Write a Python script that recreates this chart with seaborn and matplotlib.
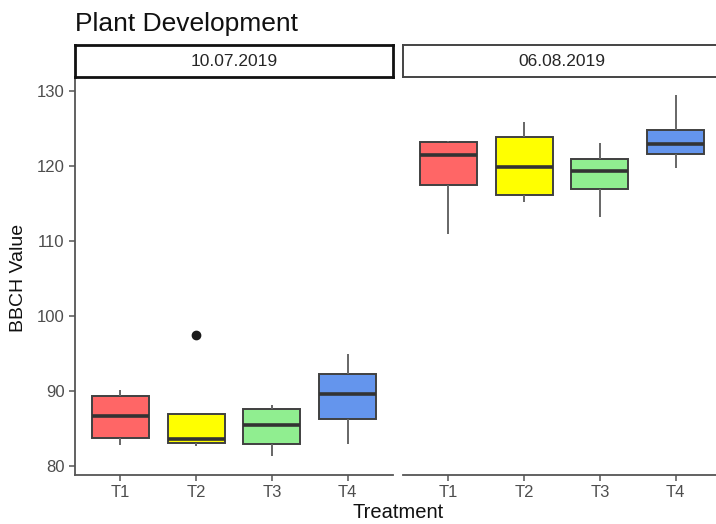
import matplotlib
matplotlib.use("Agg")
import matplotlib.pyplot as plt
import seaborn as sns
import pandas as pd

# BBCH observations per treatment and assessment date
dates = ["10.07.2019", "06.08.2019"]
treatments = ["T1", "T2", "T3", "T4"]

jul_t1 = [82.8, 83.8, 86.7, 89.4, 90.2]
jul_t2 = [82.7, 83.1, 83.6, 86.9, 97.5]
jul_t3 = [81.4, 82.9, 85.5, 87.6, 88.2]
jul_t4 = [83.0, 86.3, 89.6, 92.3, 95.0]

aug_t1 = [110.9, 117.5, 121.5, 123.2, 123.4]
aug_t2 = [115.2, 116.1, 119.9, 123.9, 125.9]
aug_t3 = [113.2, 117.0, 119.4, 121.0, 123.1]
aug_t4 = [119.8, 121.6, 122.9, 124.8, 129.5]

box_colors = ["#FF6666", "#FFFF00", "#90EE90", "#6495ED"]

rows = []
for date, groups in zip(dates, [[jul_t1, jul_t2, jul_t3, jul_t4],
                                [aug_t1, aug_t2, aug_t3, aug_t4]]):
    for trt, vals in zip(treatments, groups):
        for v in vals:
            rows.append({"Date": date, "Treatment": trt, "BBCH": v})
df = pd.DataFrame(rows)

sns.set_style("white")
plt.rcParams["font.family"] = ["Liberation Sans", "DejaVu Sans"]

W, H = 716, 524
fig = plt.figure(figsize=(W / 100, H / 100), dpi=100)

ax_left, ax_w = 75, 318
gap = 10
ax_top, ax_bot = 77, 475
strip_top = 45

palette = dict(zip(treatments, box_colors))
for i, date in enumerate(dates):
    x0 = ax_left + i * (ax_w + gap)
    ax = fig.add_axes([x0 / W, 1 - ax_bot / H, ax_w / W, (ax_bot - ax_top) / H])
    sub = df[df["Date"] == date]
    sns.boxplot(
        data=sub, x="Treatment", y="BBCH", hue="Treatment",
        order=treatments, hue_order=treatments, palette=palette,
        legend=False, saturation=1, width=0.75, ax=ax,
        linecolor="#404040", linewidth=1.4, fliersize=6,
        showcaps=False,
        whiskerprops={"color": "#666666", "linewidth": 1.4},
        medianprops={"color": "#333333", "linewidth": 2.6},
        flierprops={"marker": "o", "markerfacecolor": "#1a1a1a",
                    "markeredgecolor": "#1a1a1a"},
    )
    ax.set_xlim(-0.6, 3.6)
    ax.set_ylim(78.8, 131.9)
    ax.set_xlabel("")
    ax.set_ylabel("")
    for s in ["top", "right"]:
        ax.spines[s].set_visible(False)
    ax.spines["bottom"].set_color("#555555")
    ax.spines["bottom"].set_linewidth(1.3)
    ax.tick_params(axis="x", length=4, width=1.1, color="#555555",
                   labelsize=12, labelcolor="#4D4D4D", pad=3, bottom=True)
    if i == 0:
        ax.spines["left"].set_color("#555555")
        ax.spines["left"].set_linewidth(1.3)
        ax.set_yticks([80, 90, 100, 110, 120, 130])
        ax.tick_params(axis="y", length=4.5, width=1.1, color="#555555",
                       labelsize=12, labelcolor="#4D4D4D", pad=3, left=True)
    else:
        ax.spines["left"].set_visible(False)
        ax.set_yticks([])
    ax.set_facecolor("white")

    # facet strip header
    sax = fig.add_axes([x0 / W, 1 - ax_top / H, ax_w / W, (ax_top - strip_top) / H])
    sax.set_xticks([])
    sax.set_yticks([])
    edge = "#111111" if i == 0 else "#444444"
    lw = 2.0 if i == 0 else 1.4
    for s in sax.spines.values():
        s.set_visible(True)
        s.set_color(edge)
        s.set_linewidth(lw)
    sax.set_facecolor("white")
    sax.text(0.5, 0.5, date, ha="center", va="center", fontsize=12.5,
             color="#262626", transform=sax.transAxes)

fig.text(75 / W, 1 - 31 / H, "Plant Development", fontsize=19,
         color="#111111", ha="left", va="baseline")
fig.text(19 / W, 1 - 278 / H, "BBCH Value", fontsize=14, rotation=90,
         ha="center", va="center", color="#111111")
fig.text(398 / W, 1 - 512 / H, "Treatment", fontsize=14.5,
         ha="center", va="center", color="#111111")

fig.savefig("out.png", dpi=100, facecolor="white")
